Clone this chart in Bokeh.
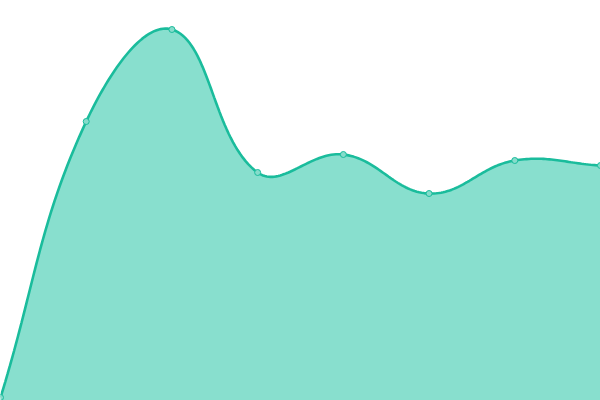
from bokeh.plotting import figure
from bokeh.models import Range1d, ColumnDataSource
from bokeh.embed import file_html
from bokeh.resources import INLINE

# data
labels = ["1", "2", "3", "4", "5", "6", "7", "8"]
values = [3, 279, 371, 228, 246, 207, 240, 235]

LINE = "#1abc9c"
FILL = "#88dfce"
TENSION = 0.4

xs = list(range(len(values)))

# smoothing of the line (Chart.js-style cardinal spline), computed in a
# pixel-like space so the tension behaves like the original
XS = 600.0 / (len(values) - 1)
px = [x * XS for x in xs]
py = list(values)

def ctrl(i):
    p0 = (px[max(i - 1, 0)], py[max(i - 1, 0)])
    p1 = (px[i], py[i])
    p2 = (px[min(i + 1, len(px) - 1)], py[min(i + 1, len(px) - 1)])
    d01 = ((p1[0] - p0[0]) ** 2 + (p1[1] - p0[1]) ** 2) ** 0.5
    d12 = ((p2[0] - p1[0]) ** 2 + (p2[1] - p1[1]) ** 2) ** 0.5
    s = d01 + d12 if d01 + d12 else 1
    fa = TENSION * d01 / s
    fb = TENSION * d12 / s
    prev = (p1[0] - fa * (p2[0] - p0[0]), p1[1] - fa * (p2[1] - p0[1]))
    nxt = (p1[0] + fb * (p2[0] - p0[0]), p1[1] + fb * (p2[1] - p0[1]))
    return prev, nxt

cps = [ctrl(i) for i in range(len(px))]
cx, cy = [], []
N = 40
for i in range(len(px) - 1):
    a = (px[i], py[i]); b = cps[i][1]; c = cps[i + 1][0]; d = (px[i + 1], py[i + 1])
    for k in range(N + (1 if i == len(px) - 2 else 0)):
        t = k / N
        mt = 1 - t
        X = mt**3 * a[0] + 3 * mt**2 * t * b[0] + 3 * mt * t**2 * c[0] + t**3 * d[0]
        Y = mt**3 * a[1] + 3 * mt**2 * t * b[1] + 3 * mt * t**2 * c[1] + t**3 * d[1]
        cx.append(X / XS)
        cy.append(Y)

p = figure(width=600, height=400, output_backend="svg", toolbar_location=None,
           x_range=Range1d(0, len(values) - 1), y_range=Range1d(0, 400),
           min_border=0)
p.axis.visible = False
p.grid.visible = False
p.outline_line_color = None
p.background_fill_color = "white"
p.border_fill_color = "white"

p.patch(cx + [xs[-1], xs[0]], cy + [0, 0], fill_color=FILL, line_color=None)
p.line(cx, cy, line_color=LINE, line_width=2.6)
src = ColumnDataSource(dict(x=xs, y=values, label=labels))
p.scatter("x", "y", source=src, size=6, fill_color="#86dccb",
          line_color=LINE, line_width=1)

open("out.html", "w").write(file_html(p, INLINE))
